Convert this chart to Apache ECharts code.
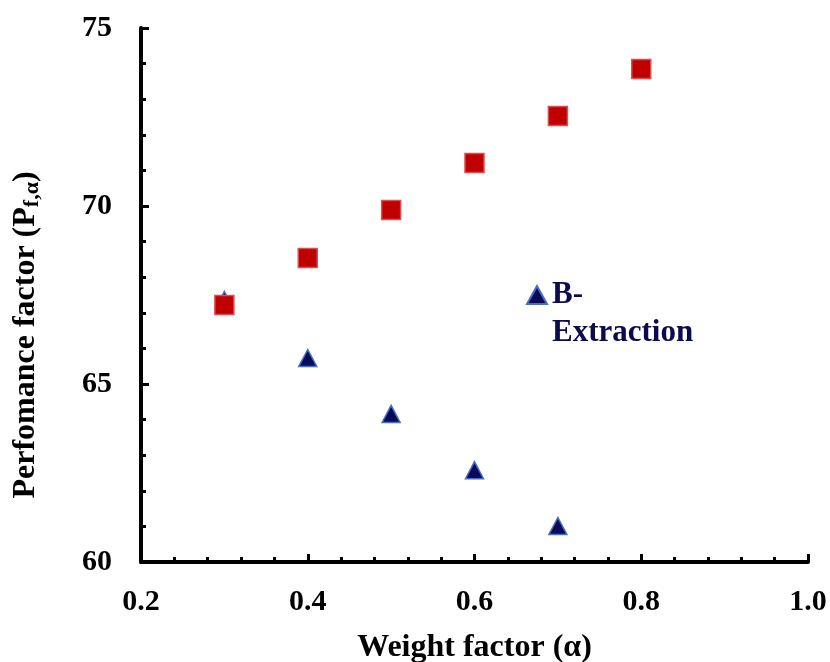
<!DOCTYPE html>
<html>
<head>
<meta charset="utf-8">
<script src="https://cdn.jsdelivr.net/npm/echarts@6/dist/echarts.min.js"></script>
<style>
  html, body { margin: 0; padding: 0; background: #fff; }
  #chart { width: 830px; height: 662px; }
</style>
</head>
<body>
<div id="chart"></div>
<script>
// Weight factor values on the x axis
const weightFactors = [0.3, 0.4, 0.5, 0.6, 0.7, 0.8];
// Performance factor, red squares
const squareValues = [67.22, 68.54, 69.89, 71.21, 72.53, 73.85];
// B-Extraction, dark triangles
const triangleX = [0.3, 0.4, 0.5, 0.6, 0.7];
const triangleValues = [67.36, 65.73, 64.16, 62.58, 61.01];

const serif = '"Liberation Serif", "Times New Roman", serif';

const chart = echarts.init(document.getElementById('chart'), null, { renderer: 'canvas' });

const axisCommon = {
  axisLine: { show: true, lineStyle: { color: '#000', width: 4 } },
  axisTick: { show: true, inside: true, length: 8, lineStyle: { color: '#000', width: 3 } },
  minorTick: { show: true, splitNumber: 5, length: 5, lineStyle: { color: '#000', width: 3 } },
  splitLine: { show: false },
  axisLabel: { color: '#000', fontFamily: serif, fontWeight: 'bold', fontSize: 30 }
};

chart.setOption({
  animation: false,
  backgroundColor: '#fff',
  grid: {
    left: 141, right: 22, top: 28, bottom: 100,
    containLabel: false,
    outerBoundsMode: 'none'
  },
  xAxis: Object.assign({}, axisCommon, {
    type: 'value', min: 0.2, max: 1.0, interval: 0.2,
    axisLabel: Object.assign({}, axisCommon.axisLabel, {
      margin: 25,
      formatter: v => v.toFixed(1)
    }),
    name: 'Weight factor (α)',
    nameLocation: 'middle',
    nameGap: 70,
    nameTextStyle: { color: '#000', fontFamily: serif, fontWeight: 'bold', fontSize: 32 }
  }),
  yAxis: Object.assign({}, axisCommon, {
    type: 'value', min: 60, max: 75, interval: 5,
    axisLabel: Object.assign({}, axisCommon.axisLabel, { margin: 29 }),
    name: '{m|Perfomance factor (P}{s|f,α}{m|)}',
    nameLocation: 'middle',
    nameGap: 98,
    nameTextStyle: {
      // extra room at the end of the title moves it toward the lower part of the axis
      padding: [0, 80, 0, 0],
      rich: {
        m: { color: '#000', fontFamily: serif, fontWeight: 'bold', fontSize: 32 },
        s: { color: '#000', fontFamily: serif, fontWeight: 'bold', fontSize: 22, padding: [12, 0, 0, 0] }
      }
    }
  }),
  legend: {
    show: true,
    left: 521, top: 233,
    data: ['B-Extraction'],
    itemWidth: 20, itemHeight: 18,
    itemGap: 4,
    // leading empty line keeps "B-" level with the marker
    formatter: () => '\nB-\nExtraction',
    textStyle: {
      color: '#0b0b4e', fontFamily: serif, fontWeight: 'bold', fontSize: 31,
      lineHeight: 38
    }
  },
  series: [
    {
      name: 'B-Extraction',
      type: 'scatter',
      symbol: 'triangle',
      symbolSize: [18, 17],
      z: 2,
      itemStyle: { color: '#0a0a5a', borderColor: '#4a6fc0', borderWidth: 1.5, opacity: 1 },
      data: triangleX.map((x, i) => [x, triangleValues[i]])
    },
    {
      name: 'Performance',
      type: 'scatter',
      symbol: 'rect',
      symbolSize: 19,
      z: 3,
      itemStyle: { color: '#c00000', borderColor: '#d85050', borderWidth: 1.5, opacity: 1 },
      data: weightFactors.map((x, i) => [x, squareValues[i]])
    }
  ]
});
</script>
</body>
</html>
